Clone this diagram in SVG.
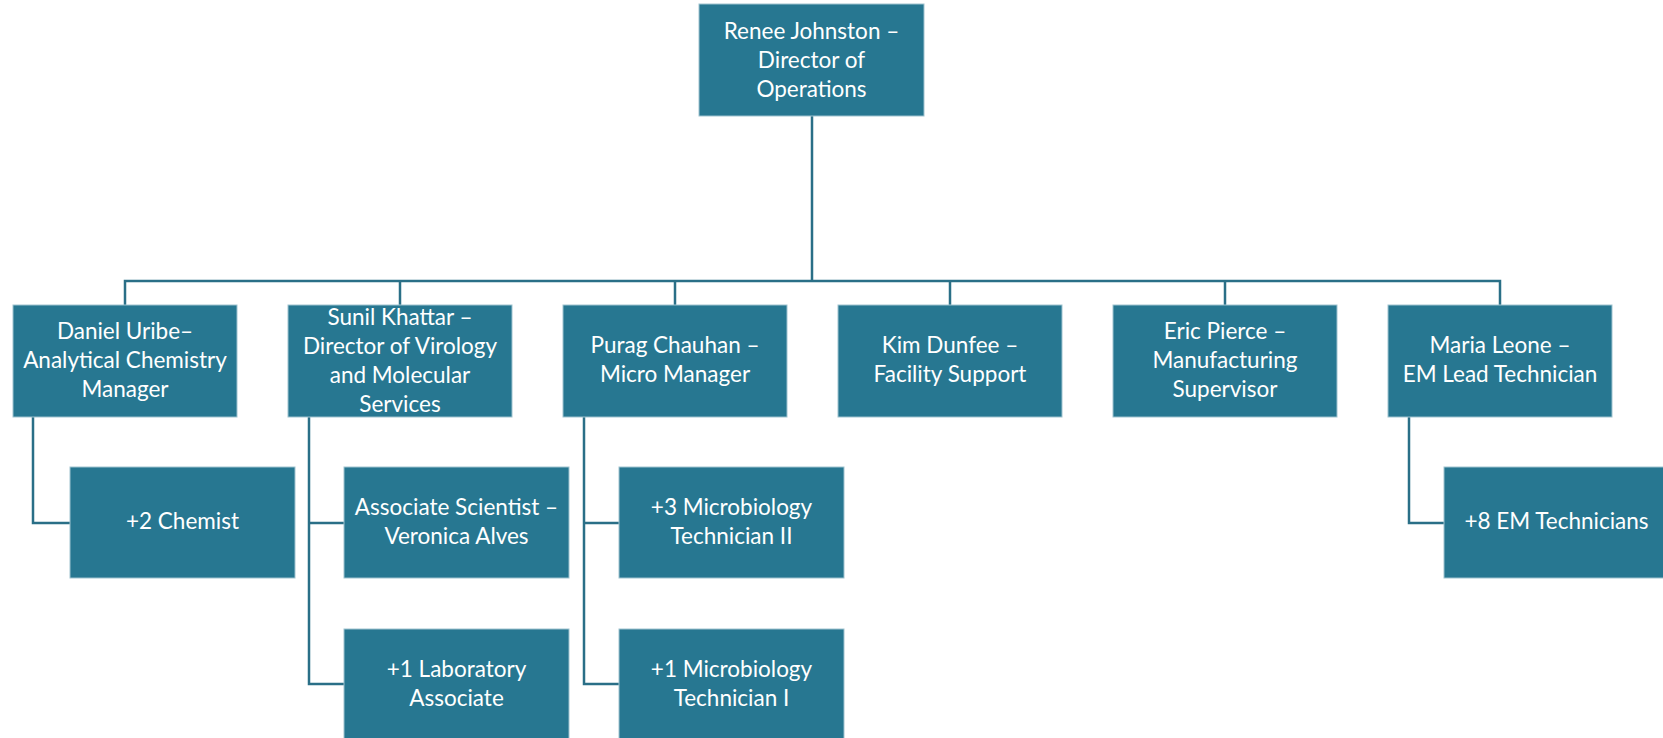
<svg xmlns="http://www.w3.org/2000/svg" width="1663" height="738" viewBox="0 0 1663 738">
<style>
.box{fill:#277791;stroke:#9fc3cf;stroke-width:1}
.t{font-family:Lato,"Liberation Sans",sans-serif;font-size:22.5px;fill:#ffffff;text-anchor:middle}
.c{fill:none;stroke:#2a6f87;stroke-width:2.5}
</style>
<rect width="1663" height="738" fill="#ffffff"/>
<g id="connectors">
<path class="c" d="M812 116V281M125 305V281H1500V305M400 281V305M675 281V305M950 281V305M1225 281V305"/>
<path class="c" d="M33 417V523H70"/>
<path class="c" d="M309 417V684H344M309 523H344"/>
<path class="c" d="M584 417V684H619M584 523H619"/>
<path class="c" d="M1409 417V523H1444"/>
</g>
<g id="n-renee"><rect class="box" x="699" y="4" width="225" height="112"/><text class="t" x="811.5" y="39">Renee Johnston –</text><text class="t" x="811.5" y="68">Director of</text><text class="t" x="811.5" y="97">Operations</text></g>
<g id="n-daniel"><rect class="box" x="13" y="305" width="224" height="112"/><text class="t" x="125" y="339">Daniel Uribe–</text><text class="t" x="125" y="368">Analytical Chemistry</text><text class="t" x="125" y="397">Manager</text></g>
<g id="n-sunil"><rect class="box" x="288" y="305" width="224" height="112"/><text class="t" x="400" y="325">Sunil Khattar –</text><text class="t" x="400" y="354">Director of Virology</text><text class="t" x="400" y="383">and Molecular</text><text class="t" x="400" y="412">Services</text></g>
<g id="n-purag"><rect class="box" x="563" y="305" width="224" height="112"/><text class="t" x="675" y="353">Purag Chauhan –</text><text class="t" x="675" y="382">Micro Manager</text></g>
<g id="n-kim"><rect class="box" x="838" y="305" width="224" height="112"/><text class="t" x="950" y="353">Kim Dunfee –</text><text class="t" x="950" y="382">Facility Support</text></g>
<g id="n-eric"><rect class="box" x="1113" y="305" width="224" height="112"/><text class="t" x="1225" y="339">Eric Pierce –</text><text class="t" x="1225" y="368">Manufacturing</text><text class="t" x="1225" y="397">Supervisor</text></g>
<g id="n-maria"><rect class="box" x="1388" y="305" width="224" height="112"/><text class="t" x="1500" y="353">Maria Leone –</text><text class="t" x="1500" y="382">EM Lead Technician</text></g>
<g id="n-chemist"><rect class="box" x="70" y="467" width="225" height="111"/><text class="t" x="182.5" y="529">+2 Chemist</text></g>
<g id="n-veronica"><rect class="box" x="344" y="467" width="225" height="111"/><text class="t" x="456.5" y="515">Associate Scientist –</text><text class="t" x="456.5" y="544">Veronica Alves</text></g>
<g id="n-labassoc"><rect class="box" x="344" y="629" width="225" height="111"/><text class="t" x="456.5" y="677">+1 Laboratory</text><text class="t" x="456.5" y="706">Associate</text></g>
<g id="n-micro2"><rect class="box" x="619" y="467" width="225" height="111"/><text class="t" x="731.5" y="515">+3 Microbiology</text><text class="t" x="731.5" y="544">Technician II</text></g>
<g id="n-micro1"><rect class="box" x="619" y="629" width="225" height="111"/><text class="t" x="731.5" y="677">+1 Microbiology</text><text class="t" x="731.5" y="706">Technician I</text></g>
<g id="n-emtech"><rect class="box" x="1444" y="467" width="225" height="111"/><text class="t" x="1556.5" y="529">+8 EM Technicians</text></g>
</svg>
